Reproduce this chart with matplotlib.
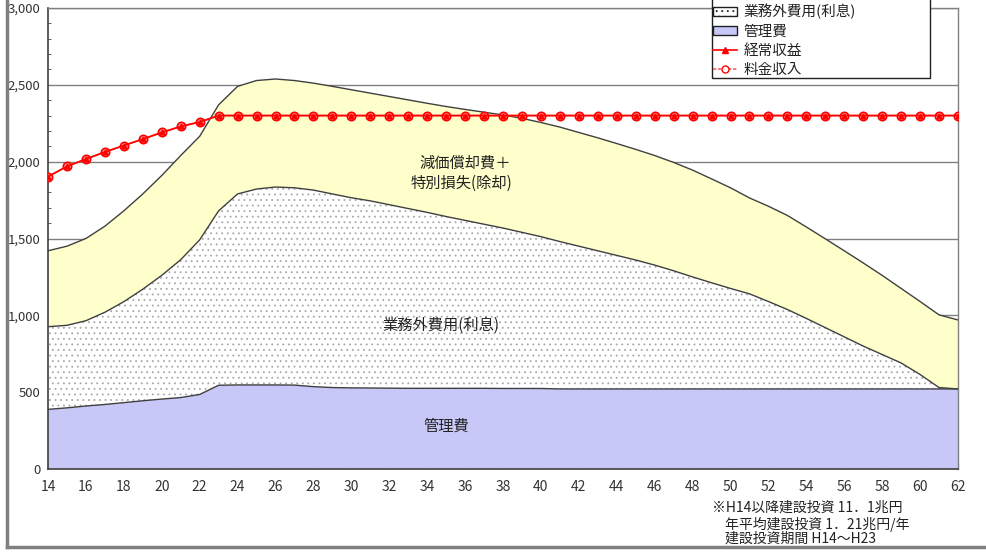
import matplotlib
matplotlib.use("Agg")
import matplotlib.pyplot as plt
from matplotlib.patches import Patch
from matplotlib.lines import Line2D
from matplotlib.ticker import MultipleLocator, FuncFormatter
import numpy as np

plt.rcParams['font.family'] = ['Noto Sans CJK JP', 'DejaVu Sans']
plt.rcParams['hatch.linewidth'] = 0.6

years = list(range(14, 63))

# 管理費 (bottom layer)
kanri = [388, 398, 410, 420, 432, 444, 455, 465, 485, 545,
         547, 547, 547, 546, 536, 530, 528, 527, 526, 525,
         525, 525, 525, 525, 524, 524, 524, 521, 521, 521,
         521, 521, 521, 521, 521, 521, 521, 521, 521, 521,
         521, 521, 521, 521, 521, 521, 521, 521, 521]

# cumulative top of 業務外費用(利息)
top_interest = [926, 935, 965, 1020, 1089, 1170, 1260, 1362, 1491, 1680,
                1790, 1822, 1835, 1830, 1815, 1790, 1765, 1745, 1720, 1695,
                1670, 1643, 1618, 1593, 1568, 1540, 1512, 1480, 1450, 1420,
                1390, 1360, 1327, 1290, 1250, 1212, 1175, 1140, 1090, 1038,
                980, 920, 860, 800, 745, 690, 615, 530, 521]

# cumulative top of 減価償却費＋特別損失(除却)
top_depr = [1420, 1450, 1500, 1580, 1680, 1790, 1910, 2040, 2165, 2370,
            2490, 2528, 2538, 2528, 2511, 2490, 2468, 2446, 2424, 2402,
            2380, 2359, 2340, 2322, 2304, 2282, 2255, 2225, 2190, 2155,
            2118, 2080, 2040, 1995, 1945, 1888, 1830, 1764, 1710, 1650,
            1575, 1498, 1420, 1341, 1260, 1175, 1090, 1003, 970]

interest = [t - k for t, k in zip(top_interest, kanri)]
depr = [t - i for t, i in zip(top_depr, top_interest)]

# 経常収益 / 料金収入
revenue = [1903, 1969, 2017, 2063, 2105, 2147, 2190, 2229, 2258, 2300] + [2300] * 39
ryokin = list(revenue)

labels_legend = ['減価償却費＋特別損失(除却)', '業務外費用(利息)', '管理費', '経常収益', '料金収入']
note_lines = ['※H14以降建設投資 11．1兆円', '年平均建設投資 1．21兆円/年', '建設投資期間 H14～H23']

c_yellow = '#FFFFCC'
c_lav = '#C8C8F8'
c_edge = '#404040'

W, H = 986, 552
fig = plt.figure(figsize=(W / 100, H / 100), dpi=100)
ax = fig.add_axes([48 / W, 1 - 469 / H, (958 - 48) / W, (469 - 8) / H])

x = np.array(years)
k = np.array(kanri)
i_top = k + np.array(interest)
d_top = i_top + np.array(depr)

ax.fill_between(x, 0, k, facecolor=c_lav, linewidth=0, zorder=2)
ax.fill_between(x, k, i_top, facecolor='white', hatch='...', edgecolor='#a8a8a8', linewidth=0, zorder=2)
ax.fill_between(x, i_top, d_top, facecolor=c_yellow, linewidth=0, zorder=2)
ax.plot(x, k, color=c_edge, lw=1, zorder=3)
ax.plot(x, i_top, color=c_edge, lw=1, zorder=3)
ax.plot(x, d_top, color=c_edge, lw=1, zorder=3)

ax.plot(x, ryokin, color='#ff6060', lw=1.2, marker='o', ms=6, mfc='#ff9090', mec='red', mew=1.2, zorder=4)
ax.plot(x, revenue, color='red', lw=1.2, marker='^', ms=3.5, mfc='red', mec='red', zorder=5)

ax.set_xlim(14, 62)
ax.set_ylim(0, 3000)
ax.yaxis.set_major_locator(MultipleLocator(500))
ax.yaxis.set_minor_locator(MultipleLocator(100))
ax.xaxis.set_major_locator(MultipleLocator(2))
ax.xaxis.set_minor_locator(MultipleLocator(1))
ax.yaxis.set_major_formatter(FuncFormatter(lambda v, p: f'{int(v):,}'))
ax.grid(axis='y', which='major', color='#808080', lw=1, zorder=1)
ax.set_axisbelow(True)
ax.tick_params(axis='both', which='both', direction='in', colors=c_edge, labelcolor='#333333')
ax.tick_params(axis='x', which='major', length=4, pad=8, labelsize=10)
ax.tick_params(axis='x', which='minor', length=4)
ax.tick_params(axis='y', which='major', length=0, pad=5.5, labelsize=9.5)
ax.tick_params(axis='y', which='minor', length=2)
for s in ['left', 'bottom']:
    ax.spines[s].set_color(c_edge)
    ax.spines[s].set_linewidth(1.2)
for s in ['top', 'right']:
    ax.spines[s].set_color('#808080')
    ax.spines[s].set_linewidth(1)

ax.text(36.0, 1992, '減価償却費＋', ha='center', va='center', fontsize=11, color='#222222', zorder=6)
ax.text(35.8, 1862, '特別損失(除却)', ha='center', va='center', fontsize=11, color='#222222', zorder=6)
ax.text(34.7, 937, '業務外費用(利息)', ha='center', va='center', fontsize=11, color='#222222', zorder=6)
ax.text(35.0, 280, '管理費', ha='center', va='center', fontsize=11, color='#222222', zorder=6)

handles = [
    Patch(facecolor=c_yellow, edgecolor='#202020', lw=1),
    Patch(facecolor='white', edgecolor='#202020', hatch='...', lw=1),
    Patch(facecolor=c_lav, edgecolor='#202020', lw=1),
    Line2D([], [], color='red', lw=1.2, marker='^', ms=4, mfc='red', mec='red'),
    Line2D([], [], color='#ff6060', lw=1.2, ls=(0, (2, 1)), marker='o', ms=5, mfc='white', mec='red'),
]
leg = fig.legend(handles, labels_legend, loc='lower left',
                 bbox_to_anchor=(712 / W, 1 - 78 / H), borderaxespad=0,
                 fontsize=10.5, frameon=True, fancybox=False, shadow=False,
                 edgecolor='#202020', framealpha=1, handlelength=1.6,
                 handleheight=0.55, handletextpad=0.45, labelspacing=0.34,
                 borderpad=0.1)
leg.get_frame().set_linewidth(1)
for t in leg.get_texts():
    t.set_color('#222222')

ys = [508, 524, 539]
xs = [712, 725, 725]
for s, yy, xx in zip(note_lines, ys, xs):
    fig.text(xx / W, 1 - yy / H, s, ha='left', va='center', fontsize=10, color='#222222')

# outer frame
fig.add_artist(Line2D([7 / W, 7 / W], [1 - 547 / H, 1], color='#808080', lw=2.5, transform=fig.transFigure))
fig.add_artist(Line2D([7 / W, 1], [1 - 547 / H, 1 - 547 / H], color='#808080', lw=2.5, transform=fig.transFigure))

fig.savefig('out.png', dpi=100)
